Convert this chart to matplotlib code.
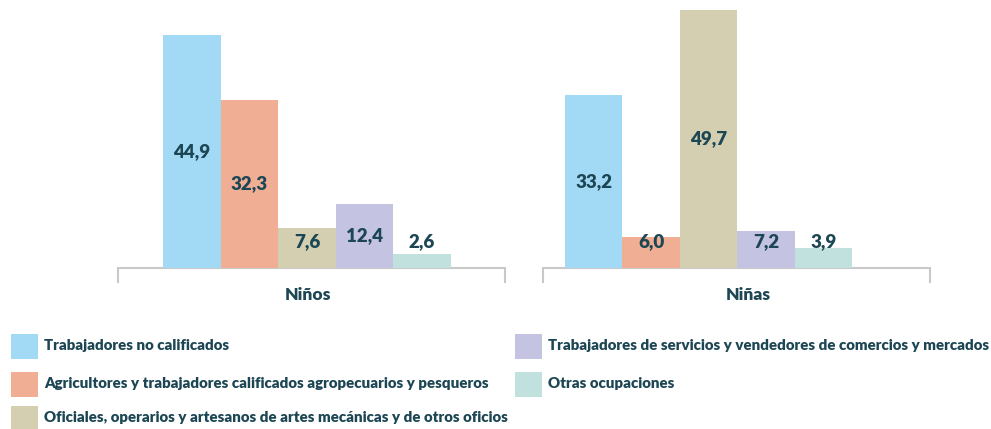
import matplotlib
matplotlib.use("Agg")
import matplotlib.pyplot as plt
from matplotlib.patches import Rectangle

groups = ["Niños", "Niñas"]
categories = [
    "Trabajadores no calificados",
    "Agricultores y trabajadores calificados agropecuarios y pesqueros",
    "Oficiales, operarios y artesanos de artes mecánicas y de otros oficios",
    "Trabajadores de servicios y vendedores de comercios y mercados",
    "Otras ocupaciones",
]
ninos = [44.9, 32.3, 7.6, 12.4, 2.6]
ninas = [33.2, 6.0, 49.7, 7.2, 3.9]
colors = ["#a2daf5", "#f0af94", "#d3cfb0", "#c5c3e2", "#c0e1de"]
text_color = "#1d4654"
axis_color = "#c9c9c9"

W, H = 991, 429
fig = plt.figure(figsize=(W / 100, H / 100), dpi=100)
FONT = "Lato"
WEIGHT = "heavy"

def px_ax(x0, x1, y0, y1):
    return fig.add_axes([x0 / W, 1 - y1 / H, (x1 - x0) / W, (y1 - y0) / H])

panels = [
    (groups[0], ninos, 118, 505, (-1.28, 5.44), 2.02),
    (groups[1], ninas, 543, 930, (-0.88, 5.85), 2.69),
]
base_y = 268
ppu = 5.2  # pixels per unit
for name, vals, x0, x1, xl, lab_x in panels:
    ax = px_ax(x0, x1, 0, base_y)
    xs = list(range(len(vals)))
    ax.bar(xs, vals, width=1.0, color=colors, linewidth=0)
    ax.set_xlim(*xl)
    ax.set_ylim(0, base_y / ppu)
    ax.axis("off")
    for x, v in zip(xs, vals):
        ax.text(x, max(v / 2, 5.0), f"{v:.1f}".replace(".", ","), ha="center", va="center",
                fontsize=13.5, fontweight=WEIGHT, color=text_color, family=FONT)
    tick = -14 / base_y
    ax.plot([0, 0, 1, 1], [tick, 0, 0, tick], transform=ax.transAxes, color=axis_color,
            lw=1.5, clip_on=False, solid_joinstyle="miter", zorder=0)
    ax.text(lab_x, -27 / ppu, name, ha="center", va="center", fontsize=12.5,
            fontweight=WEIGHT, color=text_color, family=FONT)

# legend
leg_items = [
    (11, 346), (11, 384), (11, 418), (515, 346), (515, 384)
]
for (lx, ly), cat, col in zip(leg_items, categories, colors):
    fig.patches.append(Rectangle((lx / W, 1 - (ly + 12.5) / H), 27 / W, 25 / H,
                                 transform=fig.transFigure, color=col, linewidth=0))
    fig.text((lx + 33) / W, 1 - ly / H, cat, ha="left", va="center", fontsize=10.85,
             fontweight=WEIGHT, color=text_color, family=FONT)

fig.savefig("out.png", dpi=100)
